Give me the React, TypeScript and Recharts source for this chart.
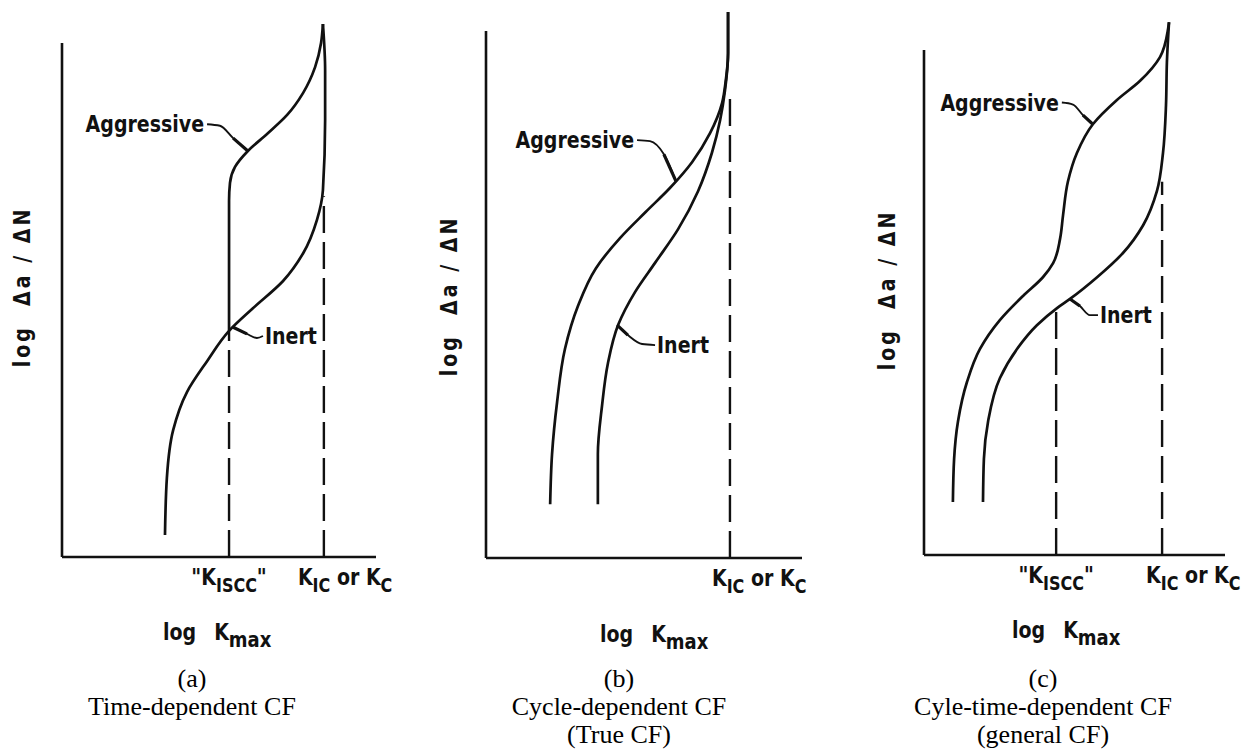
import React from 'react';
import { LineChart, Line, XAxis, YAxis, ReferenceLine } from 'recharts';

type Pt = { k: number; r: number; tag?: string };
type Marker = { at: number; top: number; label: 'KISCC' | 'KIC' };

const INK = '#111';
const FIG_FONT = '"DejaVu Sans", Verdana, sans-serif';
const CAP_FONT = '"Liberation Serif", "Times New Roman", serif';

// k = log Kmax, r = log da/dN, both on a 0-100 schematic scale

// (a) time-dependent CF
const aInert: Pt[] = [
  { k: 32.8, r: 4.3 }, { k: 33.4, r: 15.4 }, { k: 35.4, r: 24.7 }, { k: 39.8, r: 32.1 },
  { k: 46.2, r: 38.1 }, { k: 53.2, r: 44.0 }, { k: 60.8, r: 48.4 }, { k: 70.4, r: 53.7 },
  { k: 76.8, r: 59.1 }, { k: 81.2, r: 65.6 }, { k: 83.1, r: 71.4 }, { k: 83.8, r: 85.0 },
  { k: 83.8, r: 94.7 }, { k: 83.1, r: 103.7 },
];
const aAggressive: Pt[] = [
  { k: 53.2, r: 44.0 }, { k: 53.2, r: 69.3 }, { k: 53.5, r: 72.8 }, { k: 55.1, r: 75.9 },
  { k: 59.2, r: 79.0 }, { k: 65.3, r: 82.3 }, { k: 71.7, r: 86.0 }, { k: 76.8, r: 90.3 },
  { k: 80.6, r: 95.3 }, { k: 82.5, r: 100.0 }, { k: 83.1, r: 103.7 },
];
// leader lines: the point carrying a tag is where its text sits
const aAggressiveLeader: Pt[] = [
  { k: 46.2, r: 84.2, tag: 'Aggressive' }, { k: 50.3, r: 83.9 }, { k: 54.5, r: 81.5 }, { k: 59.2, r: 79.0 },
];
const aInertLeader: Pt[] = [
  { k: 54.5, r: 44.7 }, { k: 58.9, r: 43.4 }, { k: 62.1, r: 42.6 }, { k: 64.0, r: 43.0, tag: 'Inert' },
];
const aMarkers: Marker[] = [
  { at: 53.2, top: 44.0, label: 'KISCC' },
  { at: 83.4, top: 70.2, label: 'KIC' },
];
const aCaption = ['(a)', 'Time-dependent CF'];

// (b) cycle-dependent CF
const bAggressive: Pt[] = [
  { k: 20.3, r: 10.2 }, { k: 20.9, r: 19.7 }, { k: 22.5, r: 29.6 }, { k: 25.0, r: 39.7 },
  { k: 29.1, r: 47.8 }, { k: 34.8, r: 55.0 }, { k: 42.4, r: 60.7 }, { k: 50.6, r: 65.7 },
  { k: 58.2, r: 70.2 }, { k: 65.2, r: 75.1 }, { k: 70.9, r: 80.6 }, { k: 74.7, r: 86.3 },
  { k: 75.9, r: 90.7 }, { k: 76.6, r: 95.8 }, { k: 76.6, r: 103.6 },
];
const bInert: Pt[] = [
  { k: 35.4, r: 10.2 }, { k: 35.4, r: 19.7 }, { k: 36.7, r: 28.8 }, { k: 38.6, r: 37.0 },
  { k: 41.8, r: 44.2 }, { k: 47.2, r: 50.5 }, { k: 53.5, r: 56.0 }, { k: 60.8, r: 62.4 },
  { k: 67.1, r: 69.6 }, { k: 71.5, r: 76.9 }, { k: 74.1, r: 83.1 }, { k: 75.6, r: 88.6 },
  { k: 76.6, r: 95.8 }, { k: 76.6, r: 103.6 },
];
const bAggressiveLeader: Pt[] = [
  { k: 47.8, r: 79.3, tag: 'Aggressive' }, { k: 51.9, r: 79.1 }, { k: 56.3, r: 76.6 }, { k: 60.1, r: 71.5 },
];
const bInertLeader: Pt[] = [
  { k: 41.5, r: 44.2 }, { k: 44.9, r: 42.3 }, { k: 49.4, r: 40.6 }, { k: 53.5, r: 40.4, tag: 'Inert' },
];
const bMarkers: Marker[] = [{ at: 77.2, top: 87.3, label: 'KIC' }];
const bCaption = ['(b)', 'Cycle-dependent CF', '(True CF)'];

// (c) cycle-time-dependent CF
const cAggressive: Pt[] = [
  { k: 9.6, r: 10.5 }, { k: 10.0, r: 19.0 }, { k: 11.3, r: 26.5 }, { k: 14.3, r: 34.3 },
  { k: 18.6, r: 40.8 }, { k: 25.2, r: 46.5 }, { k: 32.9, r: 51.3 }, { k: 39.5, r: 55.0 },
  { k: 42.9, r: 57.8 }, { k: 45.2, r: 62.6 }, { k: 46.2, r: 67.3 }, { k: 47.8, r: 73.9 },
  { k: 50.8, r: 79.6 }, { k: 56.1, r: 85.3 }, { k: 64.1, r: 90.1 }, { k: 71.8, r: 93.9 },
  { k: 78.4, r: 98.6 }, { k: 81.1, r: 104.2 }, { k: 81.4, r: 105.5 },
];
const cInert: Pt[] = [
  { k: 19.6, r: 10.5 }, { k: 19.9, r: 19.0 }, { k: 21.3, r: 26.5 }, { k: 25.2, r: 35.0 },
  { k: 30.9, r: 40.8 }, { k: 37.5, r: 45.5 }, { k: 44.2, r: 48.9 }, { k: 48.5, r: 50.7 },
  { k: 57.5, r: 55.0 }, { k: 66.1, r: 59.8 }, { k: 72.8, r: 65.3 }, { k: 77.4, r: 72.1 },
  { k: 79.4, r: 79.6 }, { k: 80.4, r: 89.1 }, { k: 80.7, r: 97.6 }, { k: 81.4, r: 105.5 },
];
const cAggressiveLeader: Pt[] = [
  { k: 45.8, r: 89.6, tag: 'Aggressive' }, { k: 49.5, r: 89.2 }, { k: 52.8, r: 87.1 }, { k: 56.1, r: 85.3 },
];
const cInertLeader: Pt[] = [
  { k: 48.5, r: 50.7 }, { k: 51.8, r: 49.3 }, { k: 55.1, r: 47.5 }, { k: 57.8, r: 47.5, tag: 'Inert' },
];
const cMarkers: Marker[] = [
  { at: 43.9, top: 48.9, label: 'KISCC' },
  { at: 79.1, top: 73.9, label: 'KIC' },
];
const cCaption = ['(c)', 'Cyle-time-dependent CF', '(general CF)'];

const PANEL_W = 415;
const PAGE_H = 751;
const X_AXIS_H = 60;

const panels = [
  {
    id: 'a', left: 0, originX: 62, originY: 557, axisTopY: 43, axisRightX: 376, yTop: 105,
    curves: [aInert, aAggressive], leaders: [aAggressiveLeader, aInertLeader], markers: aMarkers,
    kicDx: -26, caption: aCaption, captionX: 192, yTitle: { x: 30, y: 287 }, xTitle: { x: 163, y: 640 },
  },
  {
    id: 'b', left: 415, originX: 486, originY: 558, axisTopY: 31, axisRightX: 802, yTop: 105,
    curves: [bAggressive, bInert], leaders: [bAggressiveLeader, bInertLeader], markers: bMarkers,
    kicDx: -18, caption: bCaption, captionX: 619, yTitle: { x: 457, y: 296 }, xTitle: { x: 600, y: 642 },
  },
  {
    id: 'c', left: 830, originX: 924, originY: 555, axisTopY: 50, axisRightX: 1225, yTop: 106,
    curves: [cAggressive, cInert], leaders: [cAggressiveLeader, cInertLeader], markers: cMarkers,
    kicDx: -16, caption: cCaption, captionX: 1043, yTitle: { x: 895, y: 290 }, xTitle: { x: 1012, y: 638 },
  },
];

const figText = { fontFamily: FIG_FONT, fontWeight: 700, fill: INK } as const;

function renderMarkerTick(props: any, markers: Marker[], kicDx: number) {
  const { x, y, payload } = props;
  const m = markers.find((mm) => Math.abs(mm.at - Number(payload?.value)) < 1e-6);
  if (!m) return <g />;
  if (m.label === 'KISCC') {
    return (
      <text transform={`translate(${x} ${y + 28}) scale(1 1.2)`} textAnchor="middle" fontSize={19} {...figText}>
        <tspan>"K</tspan>
        <tspan dy={6} fontSize={16}>ISCC</tspan>
        <tspan dy={-6}>"</tspan>
      </text>
    );
  }
  return (
    <text transform={`translate(${x + kicDx} ${y + 28}) scale(1 1.2)`} textAnchor="start" fontSize={19} {...figText}>
      <tspan>K</tspan>
      <tspan dy={6} fontSize={16}>IC</tspan>
      <tspan dy={-6} style={{ whiteSpace: 'pre' }}> or K</tspan>
      <tspan dy={6} fontSize={16}>C</tspan>
    </text>
  );
}

function renderTagDot(props: any) {
  const { cx, cy, payload, index } = props;
  if (!payload || !payload.tag) return <g key={`dot-${index}`} />;
  const isLeft = payload.tag === 'Aggressive';
  return (
    <text
      key={`dot-${index}`}
      transform={`translate(${cx + (isLeft ? -3 : 2)} ${cy}) scale(1 1.2)`}
      textAnchor={isLeft ? 'end' : 'start'}
      dy="0.36em"
      fontSize={19}
      {...figText}
    >
      {payload.tag}
    </text>
  );
}

// the end of a leader that meets its curve is drawn heavier
function leaderTip(c: Pt[]): Pt[] {
  return c[0].tag ? c.slice(-2) : c.slice(0, 2);
}

function Panel({ p }: { p: (typeof panels)[number] }) {
  const unitY = (p.originY - p.axisTopY) / 100;
  const plotTop = p.originY - p.yTop * unitY;
  const margin = {
    top: plotTop,
    right: p.left + PANEL_W - p.axisRightX,
    bottom: PAGE_H - p.originY - X_AXIS_H,
    left: p.originX - p.left,
  };
  return (
    <div style={{ position: 'absolute', left: p.left, top: 0 }}>
      <LineChart width={PANEL_W} height={PAGE_H} margin={margin}>
        <XAxis
          type="number"
          dataKey="k"
          domain={[0, 100]}
          ticks={p.markers.map((m) => m.at)}
          interval={0}
          height={X_AXIS_H}
          tickLine={false}
          tickSize={0}
          tickMargin={0}
          axisLine={{ stroke: INK, strokeWidth: 2.6 }}
          tick={(tp: any) => renderMarkerTick(tp, p.markers, p.kicDx)}
        />
        <YAxis type="number" dataKey="r" domain={[0, p.yTop]} hide />
        <ReferenceLine segment={[{ x: 0, y: 0 }, { x: 0, y: 100 }]} stroke={INK} strokeWidth={2.6} />
        {p.markers.map((m) => (
          <ReferenceLine
            key={`m-${m.at}`}
            segment={[{ x: m.at, y: 0 }, { x: m.at, y: m.top }]}
            stroke={INK}
            strokeWidth={2.4}
            strokeDasharray="27 9"
          />
        ))}
        {p.curves.map((c, i) => (
          <Line
            key={`c-${i}`}
            data={c}
            dataKey="r"
            type="monotoneY"
            stroke={INK}
            strokeWidth={2.7}
            dot={false}
            activeDot={false}
            isAnimationActive={false}
          />
        ))}
        {p.leaders.map((c, i) => (
          <Line
            key={`l-${i}`}
            data={c}
            dataKey="r"
            type="monotone"
            stroke={INK}
            strokeWidth={1.9}
            dot={renderTagDot}
            activeDot={false}
            isAnimationActive={false}
          />
        ))}
        {p.leaders.map((c, i) => (
          <Line
            key={`lt-${i}`}
            data={leaderTip(c)}
            dataKey="r"
            type="linear"
            stroke={INK}
            strokeWidth={3.2}
            dot={false}
            activeDot={false}
            isAnimationActive={false}
          />
        ))}
      </LineChart>
    </div>
  );
}

export default function App() {
  return (
    <div style={{ position: 'absolute', left: 0, top: 0, width: 1245, height: 751, background: '#fff', overflow: 'hidden' }}>
      {panels.map((p) => (
        <Panel key={p.id} p={p} />
      ))}
      <svg width={1245} height={751} style={{ position: 'absolute', left: 0, top: 0, pointerEvents: 'none' }}>
        {panels.map((p) => (
          <g key={`t-${p.id}`}>
            <text
              transform={`translate(${p.yTitle.x} ${p.yTitle.y}) rotate(-90) scale(1 1.2)`}
              textAnchor="middle"
              fontSize={19}
              letterSpacing={3}
              style={{ whiteSpace: 'pre' }}
              {...figText}
            >
              {'log  Δa / ΔN'}
            </text>
            <text transform={`translate(${p.xTitle.x} ${p.xTitle.y}) scale(1 1.2)`} fontSize={19} {...figText}>
              <tspan>log</tspan>
              <tspan dx={18}>K</tspan>
              <tspan dy={6} fontSize={18}>max</tspan>
            </text>
            {p.caption.map((line, i) => (
              <text
                key={`cap-${i}`}
                x={p.captionX}
                y={687 + i * 28}
                textAnchor="middle"
                fontFamily={CAP_FONT}
                fontSize={26}
                fill="#000"
              >
                {line}
              </text>
            ))}
          </g>
        ))}
      </svg>
    </div>
  );
}
